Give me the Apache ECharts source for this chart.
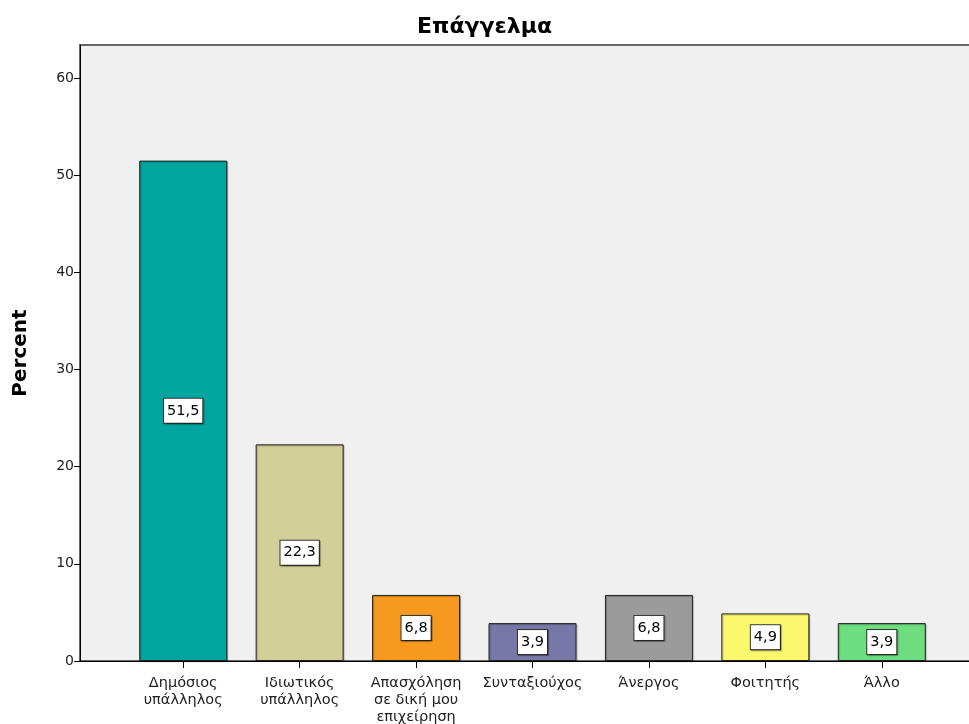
<!DOCTYPE html>
<html>
<head>
<meta charset="utf-8">
<script src="https://cdn.jsdelivr.net/npm/echarts@6/dist/echarts.min.js"></script>
<style>
  html, body { margin: 0; padding: 0; background: #fff; }
  #chart { width: 969px; height: 724px; }
</style>
</head>
<body>
<div id="chart"></div>
<script>
// Occupation breakdown (percent of respondents)
const categories = [
  'Δημόσιος\nυπάλληλος',
  'Ιδιωτικός\nυπάλληλος',
  'Απασχόληση\nσε δική μου\nεπιχείρηση',
  'Συνταξιούχος',
  'Άνεργος',
  'Φοιτητής',
  'Άλλο'
];
const percentValues = [51.5, 22.3, 6.8, 3.9, 6.8, 4.9, 3.9];
const barColors = ['#00a59f', '#d3cf98', '#f7991f', '#7878a8', '#9b9b9b', '#fbf86d', '#6edd7f'];
const yTicks = { min: 0, max: 63.4, interval: 10 };

const FONT = '"DejaVu Sans", Verdana, sans-serif';

const chart = echarts.init(document.getElementById('chart'));

chart.setOption({
  animation: false,
  title: {
    text: 'Επάγγελμα',
    left: 'center',
    top: 11,
    textStyle: { fontFamily: FONT, fontSize: 22, fontWeight: 'bold', color: '#000' }
  },
  grid: [
    // plot frame with the grey background
    { left: 80, top: 45, right: -16, bottom: 63, show: true, outerBoundsMode: 'none',
      backgroundColor: '#f0f0f0', borderColor: '#666', borderWidth: 2 },
    // inner band that holds the bars
    { left: 125, width: 815, top: 45, bottom: 63, outerBoundsMode: 'none' }
  ],
  xAxis: [
    { gridIndex: 0, type: 'value', min: 0, max: 1,
      axisLine: { show: true, onZero: false, lineStyle: { color: '#000', width: 1 } },
      axisTick: { show: false }, axisLabel: { show: false }, splitLine: { show: false } },
    { gridIndex: 1, type: 'category', data: categories,
      axisLine: { show: false },
      axisTick: { show: true, alignWithLabel: true, length: 7, lineStyle: { color: '#000' } },
      axisLabel: { interval: 0, margin: 14, fontFamily: FONT, fontSize: 14.5, color: '#222', lineHeight: 17 } }
  ],
  yAxis: [
    { gridIndex: 0, type: 'value', min: yTicks.min, max: yTicks.max, interval: yTicks.interval,
      name: 'Percent', nameLocation: 'middle', nameGap: 49, nameRotate: 90,
      nameTextStyle: { fontFamily: FONT, fontSize: 20, fontWeight: 'bold', color: '#000' },
      axisLine: { show: true, lineStyle: { color: '#000', width: 1 } },
      axisTick: { show: true, length: 6, lineStyle: { color: '#000' } },
      axisLabel: { showMaxLabel: false, margin: 6, fontFamily: FONT, fontSize: 14, color: '#222' },
      splitLine: { show: false } },
    { gridIndex: 1, type: 'value', min: yTicks.min, max: yTicks.max, interval: yTicks.interval,
      show: false, splitLine: { show: false } }
  ],
  series: [{
    type: 'bar',
    xAxisIndex: 1,
    yAxisIndex: 1,
    barWidth: 88,
    data: percentValues.map((v, i) => ({
      value: v,
      itemStyle: { color: barColors[i] }
    })),
    itemStyle: {
      borderColor: '#222', borderWidth: 1,
      shadowColor: 'rgba(0,0,0,0.25)', shadowOffsetX: 1, shadowOffsetY: 1, shadowBlur: 1
    },
    label: {
      show: true,
      position: 'inside',
      formatter: p => p.value.toFixed(1).replace('.', ','),
      fontFamily: FONT, fontSize: 14.5, color: '#000',
      backgroundColor: '#fff', borderColor: '#333', borderWidth: 1,
      padding: [5, 3, 4, 3],
      shadowColor: 'rgba(0,0,0,0.35)', shadowOffsetX: 1, shadowOffsetY: 1, shadowBlur: 1
    }
  }]
});
</script>
</body>
</html>
